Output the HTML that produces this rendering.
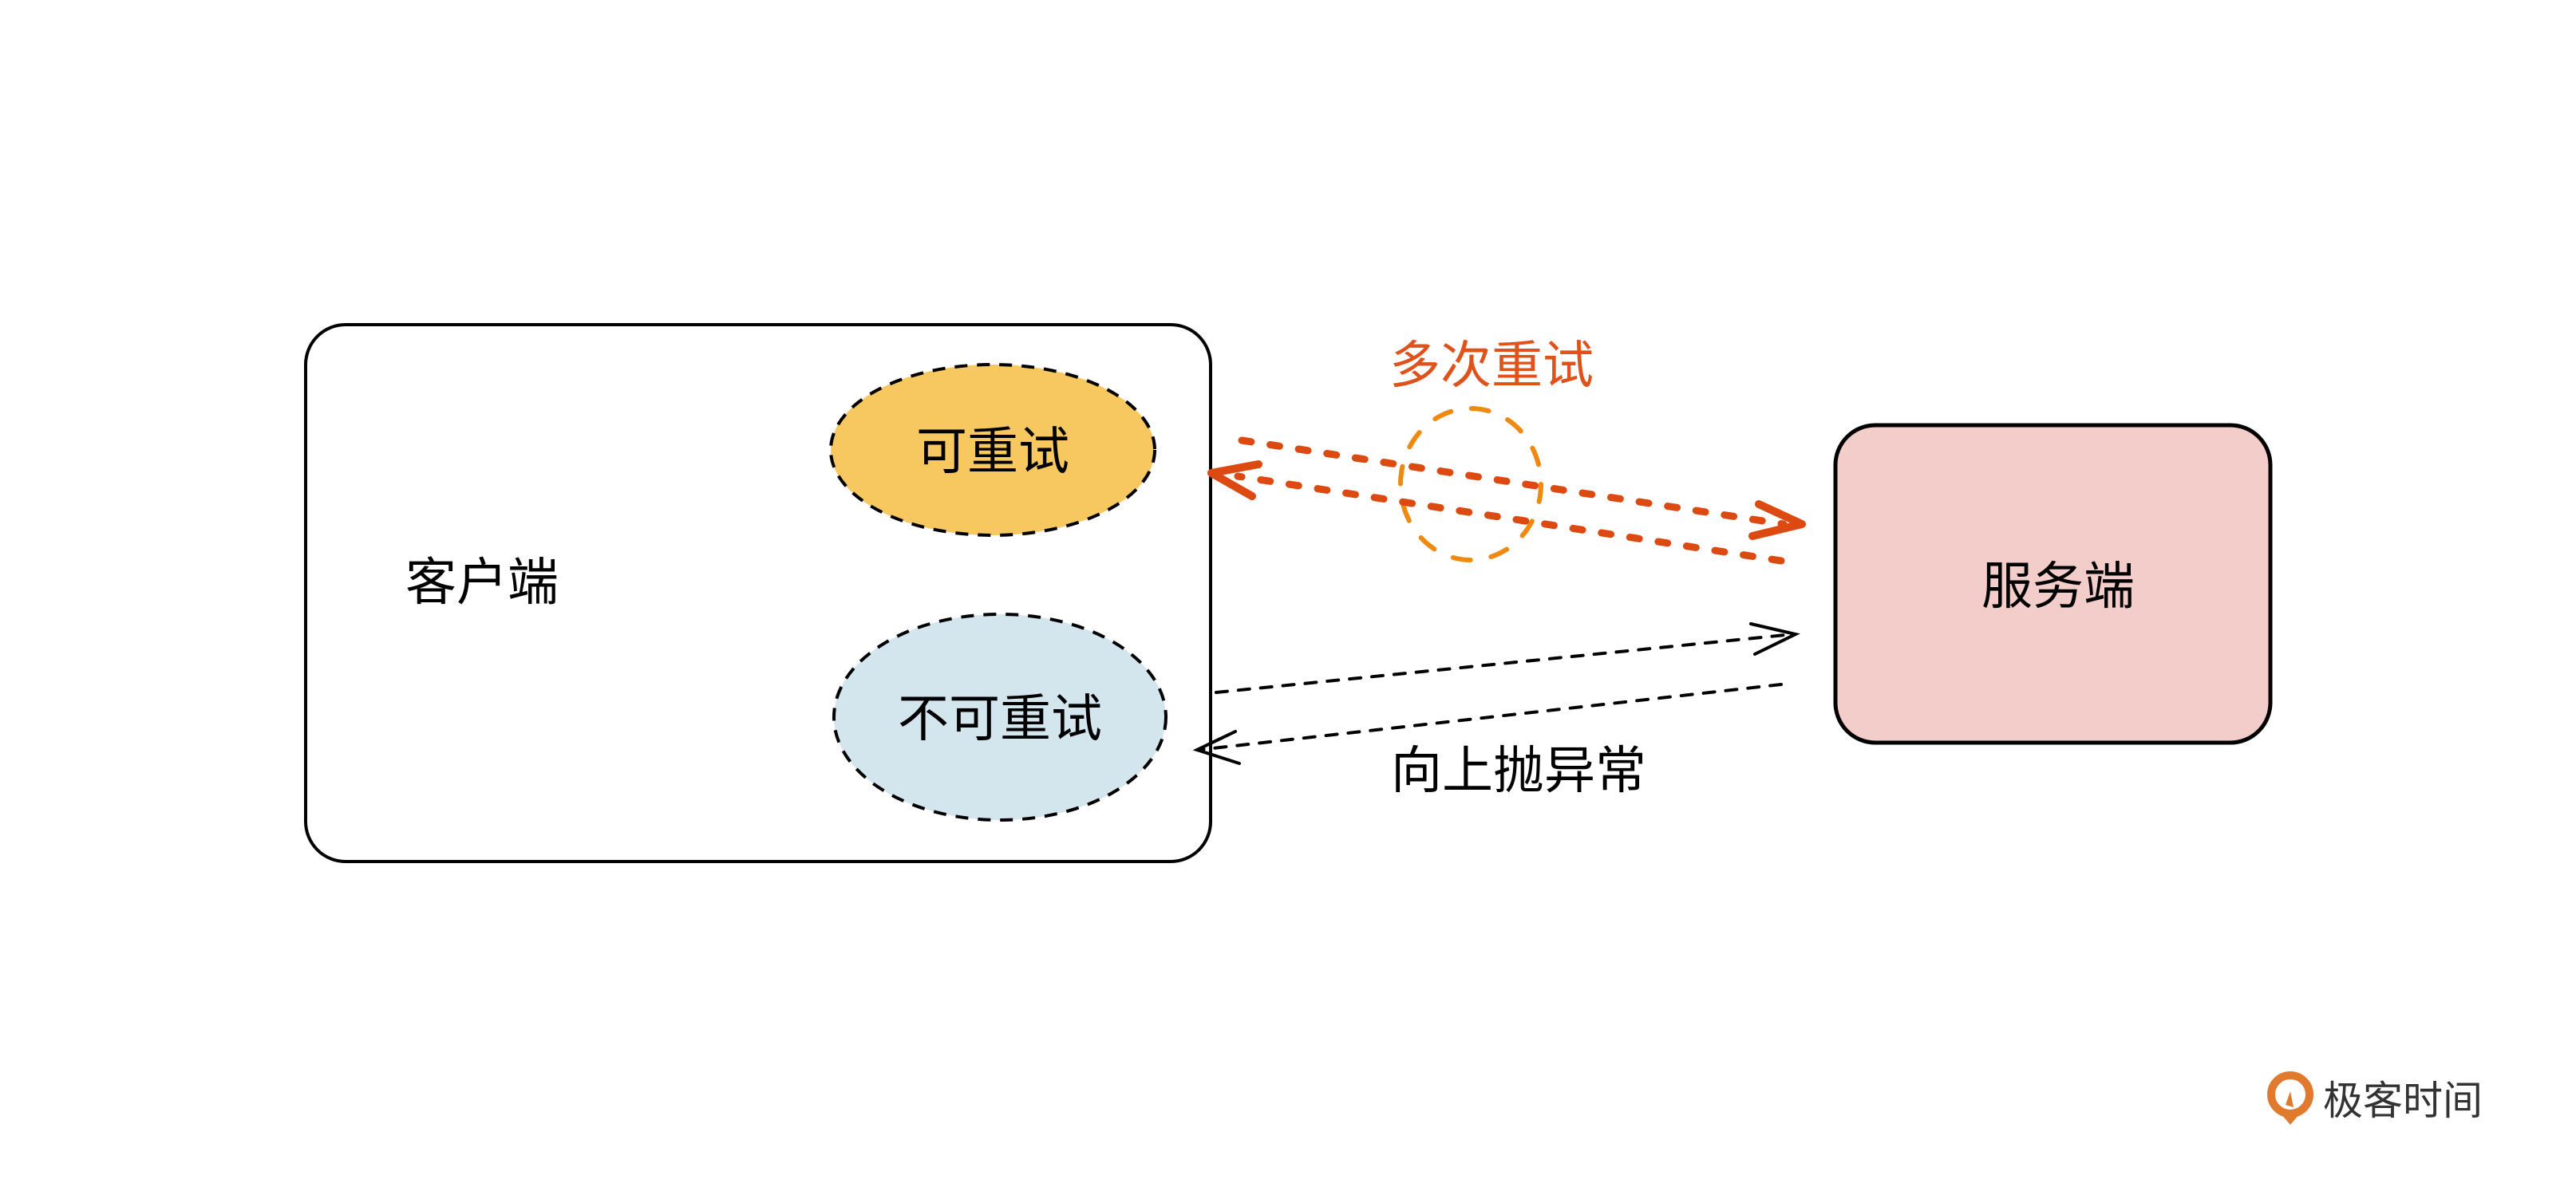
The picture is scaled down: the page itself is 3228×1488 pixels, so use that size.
<!DOCTYPE html>
<html><head><meta charset="utf-8"><style>
html,body{margin:0;padding:0;background:#fff;}
svg{display:block;}
text{font-family:"Liberation Sans","Noto Sans CJK SC",sans-serif;}
</style></head><body>
<svg width="3228" height="1488" viewBox="0 0 3228 1488" xmlns="http://www.w3.org/2000/svg">
<rect width="3228" height="1488" fill="#fff"/>
<!-- client box -->
<rect x="383" y="407" width="1134" height="673" rx="50" ry="50" fill="#fff" stroke="#000" stroke-width="4"/>
<!-- ellipses -->
<ellipse cx="1244" cy="564" rx="203" ry="107" fill="#f7c85f" stroke="#000" stroke-width="4" stroke-dasharray="16 12"/>
<ellipse cx="1253" cy="899" rx="208" ry="129" fill="#d4e6ed" stroke="#000" stroke-width="4" stroke-dasharray="16 12"/>
<text x="604" y="752" font-size="64" text-anchor="middle" fill="#000">客户端</text>
<text x="1244" y="588" font-size="64" text-anchor="middle" fill="#000">可重试</text>
<text x="1253" y="923" font-size="64" text-anchor="middle" fill="#000">不可重试</text>
<!-- server -->
<rect x="2300" y="533" width="545" height="398" rx="50" ry="50" fill="#f3cdca" stroke="#000" stroke-width="5"/>
<text x="2579" y="757" font-size="64" text-anchor="middle" fill="#000">服务端</text>
<!-- retry label -->
<text x="1869" y="480" font-size="64" text-anchor="middle" fill="#e0521c">多次重试</text>
<!-- orange circle -->
<ellipse cx="1843" cy="607" rx="88" ry="95" fill="none" stroke="#ef8a10" stroke-width="6" stroke-dasharray="22 26" stroke-linecap="round"/>
<!-- red lines -->
<g stroke="#dc4a12" stroke-width="9" stroke-linecap="round" fill="none">
<line x1="1556" y1="552" x2="2235" y2="657" stroke-dasharray="12 24"/>
<polyline points="2204,632 2258,657 2196,672" stroke-width="10" stroke-linejoin="round"/>
<line x1="2232" y1="703" x2="1551" y2="597" stroke-dasharray="12 24"/>
<polyline points="1577,582 1518,593 1569,622" stroke-width="10" stroke-linejoin="round"/>
</g>
<!-- black lines -->
<g stroke="#000" stroke-width="4" fill="none" stroke-linecap="round">
<line x1="1524" y1="868" x2="2247" y2="795" stroke-dasharray="14 14"/>
<polyline points="2194,782 2250,795 2199,820"/>
<line x1="2232" y1="858" x2="1502" y2="940" stroke-dasharray="14 14"/>
<polyline points="1548,917 1500,940 1553,957"/>
</g>
<text x="1903" y="988" font-size="64" text-anchor="middle" fill="#000">向上抛异常</text>
<!-- logo -->
<g>
<circle cx="2870" cy="1372" r="24" fill="none" stroke="#e07a2e" stroke-width="10"/>
<path d="M2858 1396 L2870 1410 L2882 1396 Z" fill="#e07a2e"/>
<path d="M2864 1385 L2870 1368 L2874 1388 Z" fill="#e07a2e"/>
<text x="2911" y="1397" font-size="50" fill="#333">极客时间</text>
</g>
</svg>
</body></html>
